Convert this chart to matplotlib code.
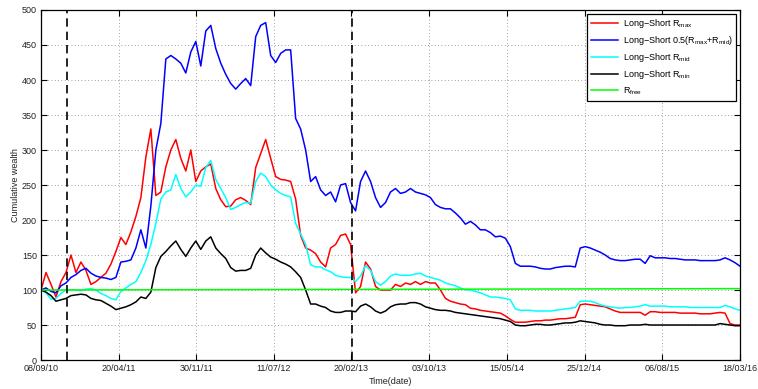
import numpy as np
import pandas as pd
import matplotlib
matplotlib.use("Agg")
import matplotlib.pyplot as plt

plt.rcParams['font.family'] = ['Liberation Sans', 'DejaVu Sans']
plt.rcParams['mathtext.default'] = 'regular'

# ---- data -------------------------------------------------------------
start_date = "2010-09-08"
end_date = "2016-03-18"
n_obs = 141

r_max = [100, 125, 108, 90, 112, 125, 150, 125, 140, 128,
         108, 112, 118, 124, 137, 155, 175, 165, 183, 205,
         232, 290, 330, 235, 240, 276, 300, 315, 288, 270,
         300, 255, 270, 276, 280, 245, 229, 219, 220, 229,
         232, 228, 222, 275, 295, 315, 288, 262, 258, 257,
         255, 230, 178, 160, 157, 152, 140, 133, 160, 165,
         178, 180, 165, 96, 105, 140, 130, 105, 100, 100,
         100, 108, 105, 110, 108, 112, 108, 112, 110, 110,
         100, 88, 84, 82, 80, 79, 74, 73, 71, 70,
         69, 68, 67, 63, 58, 54, 54, 54, 55, 56,
         56, 57, 57, 58, 59, 59, 60, 61, 79, 80,
         79, 78, 77, 76, 73, 70, 68, 68, 68, 68,
         68, 64, 69, 69, 68, 68, 68, 68, 67, 67,
         67, 67, 66, 66, 66, 67, 68, 67, 52, 50,
         50]

r_half = [100, 103, 98, 96, 106, 110, 118, 122, 128, 131,
          124, 120, 118, 117, 115, 118, 140, 141, 143, 160,
          186, 160, 220, 300, 338, 430, 435, 430, 424, 410,
          440, 455, 420, 470, 478, 445, 424, 408, 395, 387,
          395, 402, 392, 462, 478, 482, 435, 425, 438, 443,
          443, 345, 330, 300, 255, 262, 243, 235, 240, 226,
          250, 252, 225, 213, 255, 270, 255, 232, 218, 225,
          240, 245, 238, 240, 245, 240, 238, 236, 232, 222,
          218, 216, 216, 210, 203, 194, 198, 193, 186, 186,
          182, 176, 177, 174, 162, 138, 134, 134, 134, 133,
          131, 130, 130, 132, 133, 134, 134, 133, 160, 162,
          160, 157, 154, 150, 145, 143, 142, 142, 143, 144,
          144, 138, 149, 146, 146, 146, 145, 145, 144, 143,
          143, 143, 142, 142, 142, 142, 143, 146, 143, 139,
          134]

r_mid = [100, 96, 87, 88, 95, 100, 100, 100, 99, 101,
         102, 100, 95, 92, 88, 86, 98, 103, 108, 112,
         125, 142, 165, 195, 230, 240, 243, 265, 245, 233,
         240, 250, 248, 275, 285, 258, 245, 232, 215, 218,
         222, 225, 224, 255, 267, 262, 250, 243, 238, 235,
         233, 195, 180, 165, 136, 133, 133, 129, 126, 121,
         119, 118, 118, 112, 120, 135, 128, 112, 107, 112,
         120, 123, 121, 121, 121, 123, 124, 120, 118, 116,
         114, 110, 108, 106, 103, 100, 100, 98, 96, 93,
         90, 90, 89, 88, 86, 73, 71, 71, 71, 70,
         70, 70, 70, 71, 72, 73, 74, 75, 84, 84,
         84, 82, 79, 77, 76, 75, 74, 75, 75, 76,
         77, 79, 77, 77, 77, 77, 76, 76, 76, 76,
         75, 75, 75, 75, 75, 75, 75, 78, 76, 73,
         71]

r_min = [100, 97, 92, 84, 86, 88, 92, 93, 94, 93,
         88, 86, 85, 81, 77, 72, 74, 76, 79, 83,
         90, 88, 97, 132, 148, 155, 163, 170, 158, 148,
         160, 170, 158, 170, 176, 160, 152, 145, 132, 127,
         128, 128, 131, 150, 160, 153, 147, 144, 140, 137,
         133, 126, 118, 100, 80, 80, 77, 75, 70, 68,
         68, 70, 70, 69, 77, 80, 76, 70, 67, 70,
         76, 79, 80, 80, 82, 82, 80, 76, 74, 72,
         71, 71, 70, 68, 67, 66, 65, 64, 63, 62,
         61, 60, 59, 57, 55, 50, 49, 49, 50, 51,
         51, 50, 50, 51, 52, 53, 53, 54, 56, 55,
         54, 53, 51, 50, 50, 49, 49, 49, 50, 50,
         50, 51, 50, 50, 50, 50, 50, 50, 50, 50,
         50, 50, 50, 50, 50, 50, 52, 51, 50, 49,
         49]

rfree_dates = ["2010-09-08", "2016-03-18"]
rfree = [100, 102]

event_dates = ["2010-11-23", "2013-02-21"]

tick_dates = ["2010-09-08", "2011-04-20", "2011-11-30", "2012-07-11",
              "2013-02-20", "2013-10-03", "2014-05-15", "2014-12-25",
              "2015-08-06", "2016-03-18"]
tick_labels = ["08/09/10", "20/04/11", "30/11/11", "11/07/12", "20/02/13",
               "03/10/13", "15/05/14", "25/12/14", "06/08/15", "18/03/16"]

# ---- figure -----------------------------------------------------------
dates = pd.date_range(start_date, end_date, periods=n_obs)

fig = plt.figure(figsize=(7.58, 3.89), dpi=100)
ax = fig.add_axes([0.0541, 0.0745, 0.9222, 0.8998])

lw = 1.1
ax.plot(dates, r_max, color=(1, 0, 0), lw=lw,
        label=r"Long$-$Short R$_{max}$")
ax.plot(dates, r_half, color=(0, 0, 1), lw=lw,
        label=r"Long$-$Short 0.5(R$_{max}$+R$_{mid}$)")
ax.plot(dates, r_mid, color=(0, 1, 1), lw=lw,
        label=r"Long$-$Short R$_{mid}$")
ax.plot(dates, r_min, color=(0, 0, 0), lw=lw,
        label=r"Long$-$Short R$_{min}$")
ax.plot(pd.to_datetime(rfree_dates), rfree, color=(0, 1, 0), lw=lw,
        label=r"R$_{free}$")

for d in event_dates:
    ax.axvline(pd.Timestamp(d), color="black", lw=1.2,
               linestyle=(0, (5, 3)), zorder=5)

ax.set_xlim(pd.Timestamp(start_date), pd.Timestamp(end_date))
ax.set_ylim(0, 500)
ax.set_yticks(np.arange(0, 501, 50))
ax.set_xticks(pd.to_datetime(tick_dates))
ax.set_xticklabels(tick_labels)

ax.grid(True, linestyle=(0, (1, 3)), color="#808080", linewidth=0.6)
ax.tick_params(axis="both", which="both", direction="in", top=True,
               right=True, length=4, width=0.8, labelsize=6.5,
               labelcolor="#222222", pad=3)
for s in ax.spines.values():
    s.set_linewidth(0.9)

ax.set_xlabel("Time(date)", fontsize=6.5, color="#222222", labelpad=3)
ax.set_ylabel("Cumulative wealth", fontsize=6.5, color="#222222",
              labelpad=1)

leg = ax.legend(loc="upper right", fontsize=6.5, frameon=True,
                fancybox=False, edgecolor="black", framealpha=1,
                handlelength=3.0, handletextpad=0.5, borderpad=0.4,
                labelspacing=0.45, borderaxespad=0.4)
leg.get_frame().set_linewidth(0.9)

fig.savefig("out.png", dpi=100)
